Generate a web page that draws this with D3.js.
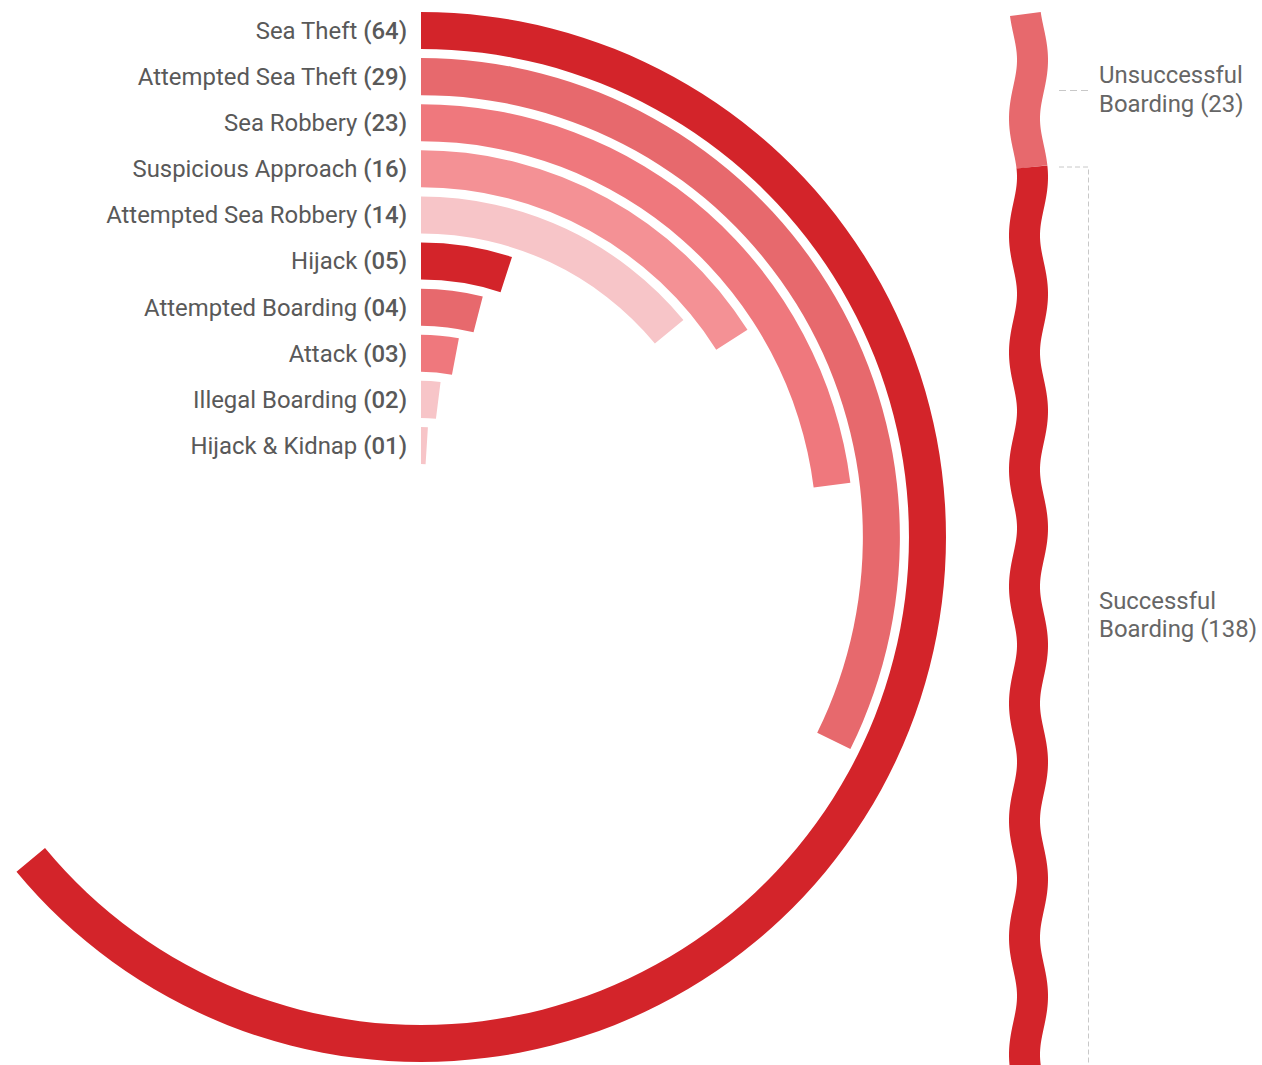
<!DOCTYPE html>
<html>
<head>
<meta charset="utf-8">
<script src="https://cdn.jsdelivr.net/npm/d3@7"></script>
<style>
  body { margin: 0; background: #fff; }
  svg { display: block; font-family: Roboto, "Noto Sans", sans-serif; }
  .label { fill: #595959; font-size: 23.9px; }
  .label .num { font-weight: 500; }
  .side { fill: #666; font-size: 23.9px; }
  .guide { stroke: #c8c8c8; stroke-width: 1; fill: none; }
</style>
</head>
<body>
<svg></svg>
<script>
// Incident types, counts shown in labels, colours
const categories = ["Sea Theft", "Attempted Sea Theft", "Sea Robbery", "Suspicious Approach",
    "Attempted Sea Robbery", "Hijack", "Attempted Boarding", "Attack", "Illegal Boarding", "Hijack & Kidnap"];
const counts = [64, 29, 23, 16, 14, 5, 4, 3, 2, 1];
// arc lengths as drawn in the source (Attempted Sea Theft is drawn longer than its label)
const arcCounts = [64, 32.3, 23, 16, 14, 5, 4, 3, 2, 1];
const colors = ["#d3242a", "#e7696d", "#ef787d", "#f49195", "#f7c5c8",
    "#d3242a", "#e7696d", "#ef787d", "#f7c5c8", "#f7c5c8"];

// Boarding outcome, drawn as the wavy bar
const outcomes = ["Unsuccessful", "Successful"];
const outcomeCounts = [23, 138];
const outcomeColors = ["#e7696d", "#d3242a"];

let width = 1262,
    height = 1065;

const svg = d3.select('svg')
    .attr('width', width)
    .attr('height', height);

// ---- radial bars ----
let cx = 421, cy = 537;

let r = d3.scaleBand()
    .domain(categories)
    .range([525, 73])
    .paddingInner(0.197)
    .paddingOuter(0);

let angle = d3.scaleLinear()
    .domain([0, 100])
    .range([0, 2 * Math.PI]);

let arc = d3.arc()
    .innerRadius((d) => r(d.name))
    .outerRadius((d) => r(d.name) + r.bandwidth())
    .startAngle(0)
    .endAngle((d) => angle(d.arc));

let rows = categories.map((name, i) => ({
    name: name, count: counts[i], arc: arcCounts[i], color: colors[i]
}));

let g = svg.append('g')
    .attr('transform', `translate(${cx},${cy})`);

g.selectAll('path')
    .data(rows)
    .enter().append('path')
      .attr('d', arc)
      .attr('fill', (d) => d.color);

let labels = g.selectAll('text')
    .data(rows)
    .enter().append('text')
      .attr('class', 'label')
      .attr('x', -14)
      .attr('y', (d) => -(r(d.name) + r.bandwidth() / 2))
      .attr('dy', '0.35em')
      .attr('text-anchor', 'end');
labels.append('tspan').text((d) => d.name + ' ');
labels.append('tspan').attr('class', 'num')
    .text((d) => '(' + String(d.count).padStart(2, '0') + ')');

// ---- wavy stacked bar ----
let waveX = 1028.5,
    amp = 4,
    period = 117,
    peakY = 60,
    waveTop = 14;

let total = d3.sum(outcomeCounts);
let yw = d3.scaleLinear()
    .domain([0, total])
    .range([waveTop, waveTop + 153 * total / 23]);

let wave = d3.line()
    .x((y) => waveX + amp * Math.cos(2 * Math.PI * (y - peakY) / period))
    .y((y) => y);

let stack = [];
let acc = 0;
outcomeCounts.forEach((v, i) => {
    stack.push({ name: outcomes[i], value: v, y0: yw(acc), y1: yw(acc + v), color: outcomeColors[i] });
    acc += v;
});

svg.append('g')
  .selectAll('path')
  .data(stack)
  .enter().append('path')
    .attr('d', (d) => wave(d3.range(d.y0, d.y1, 1).concat([d.y1])))
    .attr('fill', 'none')
    .attr('stroke', (d) => d.color)
    .attr('stroke-width', 31)
    .attr('stroke-linecap', 'butt');

// guides + labels
let gx0 = 1059, gx1 = 1088.5, tx = 1099;
let un = stack[0], su = stack[1];

svg.append('line').attr('class', 'guide')
    .attr('x1', gx0).attr('x2', gx1)
    .attr('y1', (un.y0 + un.y1) / 2).attr('y2', (un.y0 + un.y1) / 2)
    .attr('stroke-dasharray', '7,4');

svg.append('path').attr('class', 'guide')
    .attr('d', `M${gx0},${su.y0}H${gx1}V${su.y1}`)
    .attr('stroke-dasharray', '5,3');

function sideLabel(d, yMid) {
    let t = svg.append('text')
        .attr('class', 'side')
        .attr('x', tx)
        .attr('y', yMid);
    t.append('tspan').attr('x', tx).attr('dy', '-0.3em').text(d.name);
    t.append('tspan').attr('x', tx).attr('dy', '1.19em').text(`Boarding (${d.value})`);
}
sideLabel(un, (un.y0 + un.y1) / 2);
sideLabel(su, (su.y0 + Math.min(su.y1, height)) / 2);
</script>
</body>
</html>
